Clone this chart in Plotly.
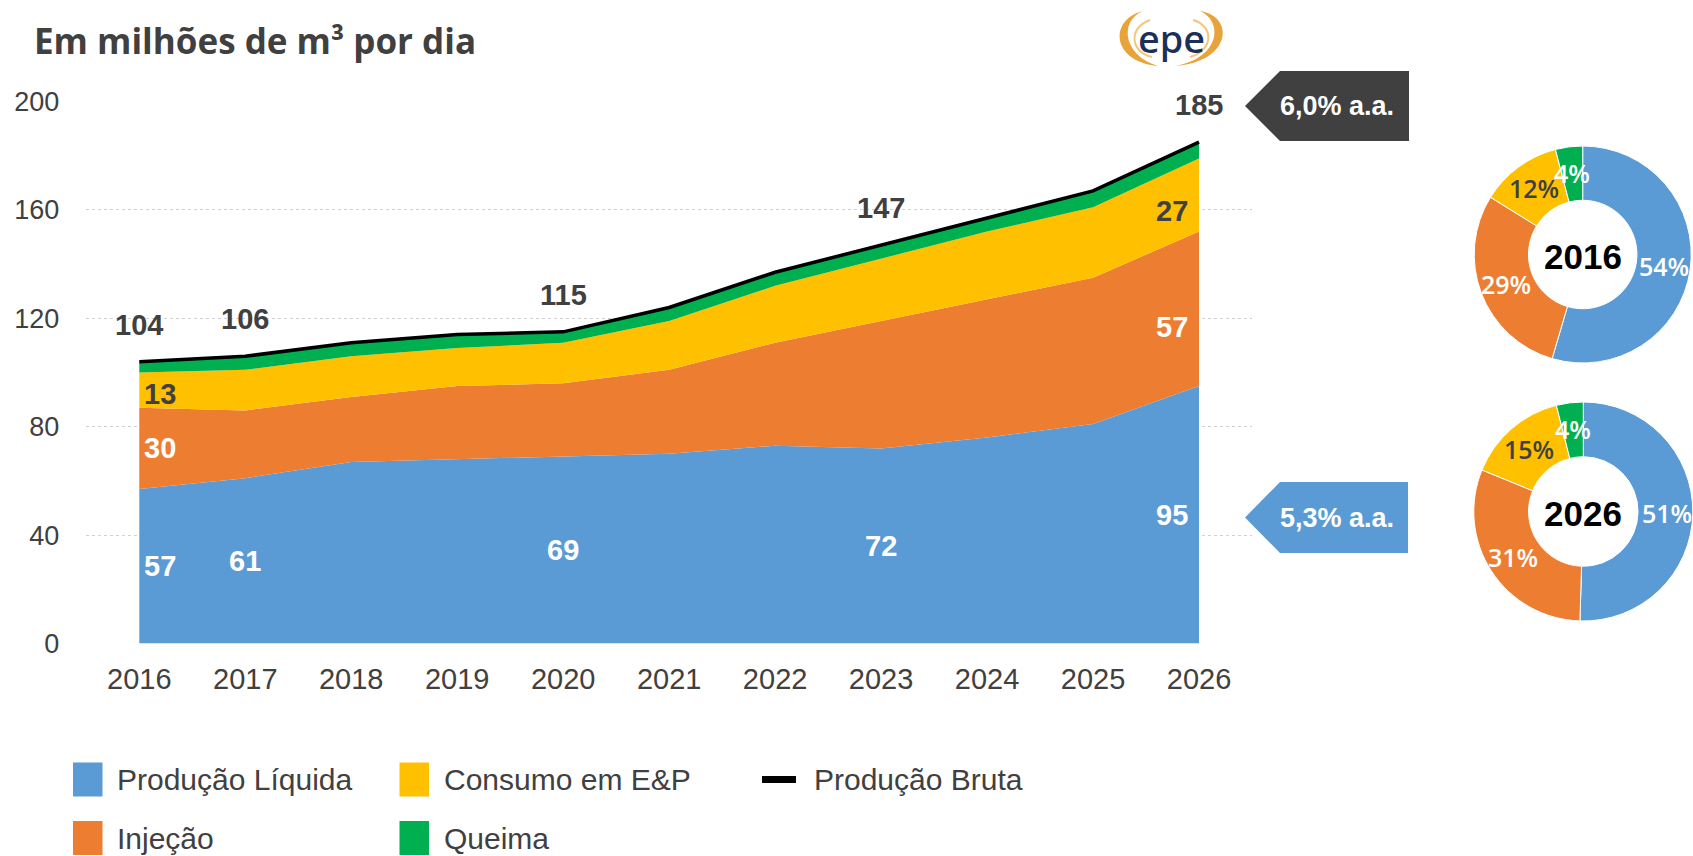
import math
import plotly.graph_objects as go

# ---------------- data ----------------
years = [2016, 2017, 2018, 2019, 2020, 2021, 2022, 2023, 2024, 2025, 2026]
liquida = [57, 61, 67, 68, 69, 70, 73, 72, 76, 81, 95]
injecao = [30, 25, 24, 27, 27, 31, 38, 47, 51, 54, 57]
consumo = [13, 15, 15, 14, 15, 18, 21, 23, 25, 26, 27]
queima = [4, 5, 5, 5, 4, 5, 5, 5, 5, 6, 6]
bruta = [104, 106, 111, 114, 115, 124, 137, 147, 157, 167, 185]

series_names = ["Produção Líquida", "Injeção", "Consumo em E&P", "Queima"]
line_name = "Produção Bruta"

total_label_idx = [0, 1, 4, 7, 10]
liquida_label_idx = [0, 1, 4, 7, 10]
injecao_label_idx = [0, 10]
consumo_label_idx = [0, 10]

donut_years = ["2016", "2026"]
share_2016 = [54, 29, 12, 4]
share_2026 = [51, 31, 15, 4]

growth_bruta = "6,0% a.a."
growth_liquida = "5,3% a.a."
title_text = "Em milhões de m³ por dia"

# ---------------- style ----------------
W, H = 1693, 856
BLUE, ORANGE, YELLOW, GREEN = "#5B9BD5", "#ED7D31", "#FFC000", "#00B050"
DARK = "#404040"
colors = [BLUE, ORANGE, YELLOW, GREEN]


def px(x):
    return x / W


def py(y):
    return 1 - y / H


X0, X1 = 86.3, 1252.0   # plot area in pixels
Y0, Y1 = 101.5, 643.5

fig = go.Figure()

stack = [liquida, injecao, consumo, queima]
for name, vals, col in zip(series_names, stack, colors):
    fig.add_trace(go.Scatter(
        x=years, y=vals, name=name, stackgroup="one", mode="lines",
        line=dict(width=0, color=col), fillcolor=col, showlegend=False,
        hoverinfo="x+y+name"))

fig.add_trace(go.Scatter(x=years, y=bruta, name=line_name, mode="lines",
                         line=dict(color="black", width=3.5), showlegend=False))

ann = []
lab_font = dict(family="Liberation Sans, Arial", size=29, color=DARK, weight="bold")

# totals
for i in total_label_idx:
    ann.append(dict(x=years[i], y=bruta[i], xref="x", yref="y", text=str(bruta[i]),
                    xanchor="center", yanchor="middle",
                    showarrow=False, yshift=37, font=lab_font))


def seg_label(i, base, val, color, yshift=0):
    if i == 0:
        xa, xs = "left", 3
    elif i == len(years) - 1:
        xa, xs = "right", -9
    else:
        xa, xs = "center", 0
    return dict(x=years[i], y=base + val / 2, xref="x", yref="y", text=str(val),
                showarrow=False, xanchor=xa, yanchor="middle", xshift=xs, yshift=yshift,
                font=dict(family="Liberation Sans, Arial", size=29, color=color, weight="bold"))


for i in liquida_label_idx:
    ann.append(seg_label(i, 0, liquida[i], "white"))
for i in injecao_label_idx:
    ann.append(seg_label(i, liquida[i], injecao[i], "white",
                         -18 if i == len(years) - 1 else 0))
for i in consumo_label_idx:
    ann.append(seg_label(i, liquida[i] + injecao[i], consumo[i], DARK,
                         -16 if i == len(years) - 1 else -4))


def paper_text(x, y, text, font, xanchor="center"):
    return dict(x=px(x), y=py(y), xref="paper", yref="paper", text=text, showarrow=False,
                xanchor=xanchor, yanchor="middle", font=font)


# title
ann.append(paper_text(32, 40, title_text,
                      dict(family="Open Sans", size=35, color=DARK, weight="bold"), "left"))

# logo text
ann.append(paper_text(1171, 38, "epe", dict(family="Noto Sans", size=38, color="#1B2F5B", weight=500)))

shapes = []
# logo arcs
gold = "#E8A33A"
shapes.append(dict(type="path", xref="paper", yref="paper", line=dict(width=0), fillcolor=gold,
                   path=f"M {px(1143)} {py(11)} C {px(1108)} {py(20)}, {px(1112)} {py(62)}, {px(1158)} {py(66)} "
                        f"C {px(1124)} {py(56)}, {px(1118)} {py(22)}, {px(1143)} {py(11)} Z"))
shapes.append(dict(type="path", xref="paper", yref="paper", line=dict(width=0), fillcolor=gold,
                   path=f"M {px(1175)} {py(66)} C {px(1232)} {py(62)}, {px(1235)} {py(16)}, {px(1200)} {py(11)} "
                        f"C {px(1224)} {py(22)}, {px(1220)} {py(58)}, {px(1175)} {py(66)} Z"))
shapes.append(dict(type="path", xref="paper", yref="paper", line=dict(width=2, color="#F2C77A"),
                   path=f"M {px(1150)} {py(20)} C {px(1128)} {py(28)}, {px(1130)} {py(52)}, {px(1152)} {py(57)}"))
shapes.append(dict(type="path", xref="paper", yref="paper", line=dict(width=2, color="#F2C77A"),
                   path=f"M {px(1193)} {py(20)} C {px(1214)} {py(26)}, {px(1214)} {py(50)}, {px(1190)} {py(57)}"))


def callout(tip_x, top, bot, left, right, color):
    mid = (top + bot) / 2
    return dict(type="path", xref="paper", yref="paper", line=dict(width=0), fillcolor=color,
                path=f"M {px(tip_x)} {py(mid)} L {px(left)} {py(top)} L {px(right)} {py(top)} "
                     f"L {px(right)} {py(bot)} L {px(left)} {py(bot)} Z")


shapes.append(callout(1245, 71, 141, 1280, 1409, DARK))
shapes.append(callout(1245, 482, 553, 1280, 1408, BLUE))
call_font = dict(family="Liberation Sans, Arial", size=27, color="white", weight="bold")
ann.append(paper_text(1337, 106, growth_bruta, call_font))
ann.append(paper_text(1337, 518, growth_liquida, call_font))

# donuts
donuts = [(donut_years[0], share_2016, 1582.7, 254.5, 108.5),
          (donut_years[1], share_2026, 1583.3, 511.5, 109.5)]
text_cols = ["white", "white", DARK, "white"]
for label, shares, cx, cy, R in donuts:
    fig.add_trace(go.Pie(values=shares, labels=series_names, hole=0.5, sort=False,
                         direction="clockwise", rotation=0, textinfo="none",
                         marker=dict(colors=colors, line=dict(color="white", width=1)),
                         domain=dict(x=[px(cx - R), px(cx + R)], y=[py(cy + R), py(cy - R)]),
                         showlegend=False))
    ann.append(paper_text(cx, cy + 2, label,
                          dict(family="Liberation Sans, Arial", size=35, color="black", weight="bold")))
    tot = sum(shares)
    cum = 0
    rmid = R * 0.76
    for s, tc in zip(shares, text_cols):
        a = (cum + s / 2) / tot * 2 * math.pi
        cum += s
        tx = cx + rmid * math.sin(a)
        ty = cy - rmid * math.cos(a)
        ann.append(paper_text(tx, ty, f"{s}%", dict(family="Open Sans", size=25, color=tc, weight=600)))

# manual legend
leg_font = dict(family="Liberation Sans, Arial", size=30, color=DARK)
legend_items = [
    (series_names[0], BLUE, 73, 779.5, "box"),
    (series_names[2], YELLOW, 399.5, 779.5, "box"),
    (line_name, "black", 762, 779.5, "line"),
    (series_names[1], ORANGE, 73, 838, "box"),
    (series_names[3], GREEN, 399.5, 838, "box"),
]
for name, col, lx, ly, kind in legend_items:
    if kind == "box":
        shapes.append(dict(type="rect", xref="paper", yref="paper", line=dict(width=0), fillcolor=col,
                           x0=px(lx), x1=px(lx + 29.5), y0=py(ly + 17), y1=py(ly - 17)))
        tx = lx + 42
    else:
        shapes.append(dict(type="rect", xref="paper", yref="paper", line=dict(width=0), fillcolor=col,
                           x0=px(lx), x1=px(lx + 34), y0=py(ly + 3.5), y1=py(ly - 3.5)))
        tx = lx + 50
    ann.append(paper_text(tx, ly, name, leg_font, "left"))

fig.update_layout(
    width=W, height=H, margin=dict(l=0, r=0, t=0, b=0, pad=0, autoexpand=False),
    paper_bgcolor="white", plot_bgcolor="white", showlegend=False,
    xaxis=dict(domain=[px(X0), px(X1)], range=[2015.5, 2026.5], tickvals=years,
               ticktext=[str(y) for y in years], showgrid=False, zeroline=False, showline=False,
               ticks="", ticklabelstandoff=15, automargin=False,
               tickfont=dict(family="Liberation Sans, Arial", size=29, color=DARK)),
    yaxis=dict(domain=[py(Y1), py(Y0)], range=[0, 200], tickvals=[0, 40, 80, 120, 160, 200],
               showgrid=True, gridcolor="#D0D0D0", griddash="dot", gridwidth=1,
               zeroline=False, showline=False, ticks="", ticklabelstandoff=26, automargin=False,
               tickfont=dict(family="Liberation Sans, Arial", size=27, color=DARK)),
    annotations=ann, shapes=shapes,
)

fig.write_html("out.html", config={"displayModeBar": False},
               post_script="document.body.style.margin='0px';")
